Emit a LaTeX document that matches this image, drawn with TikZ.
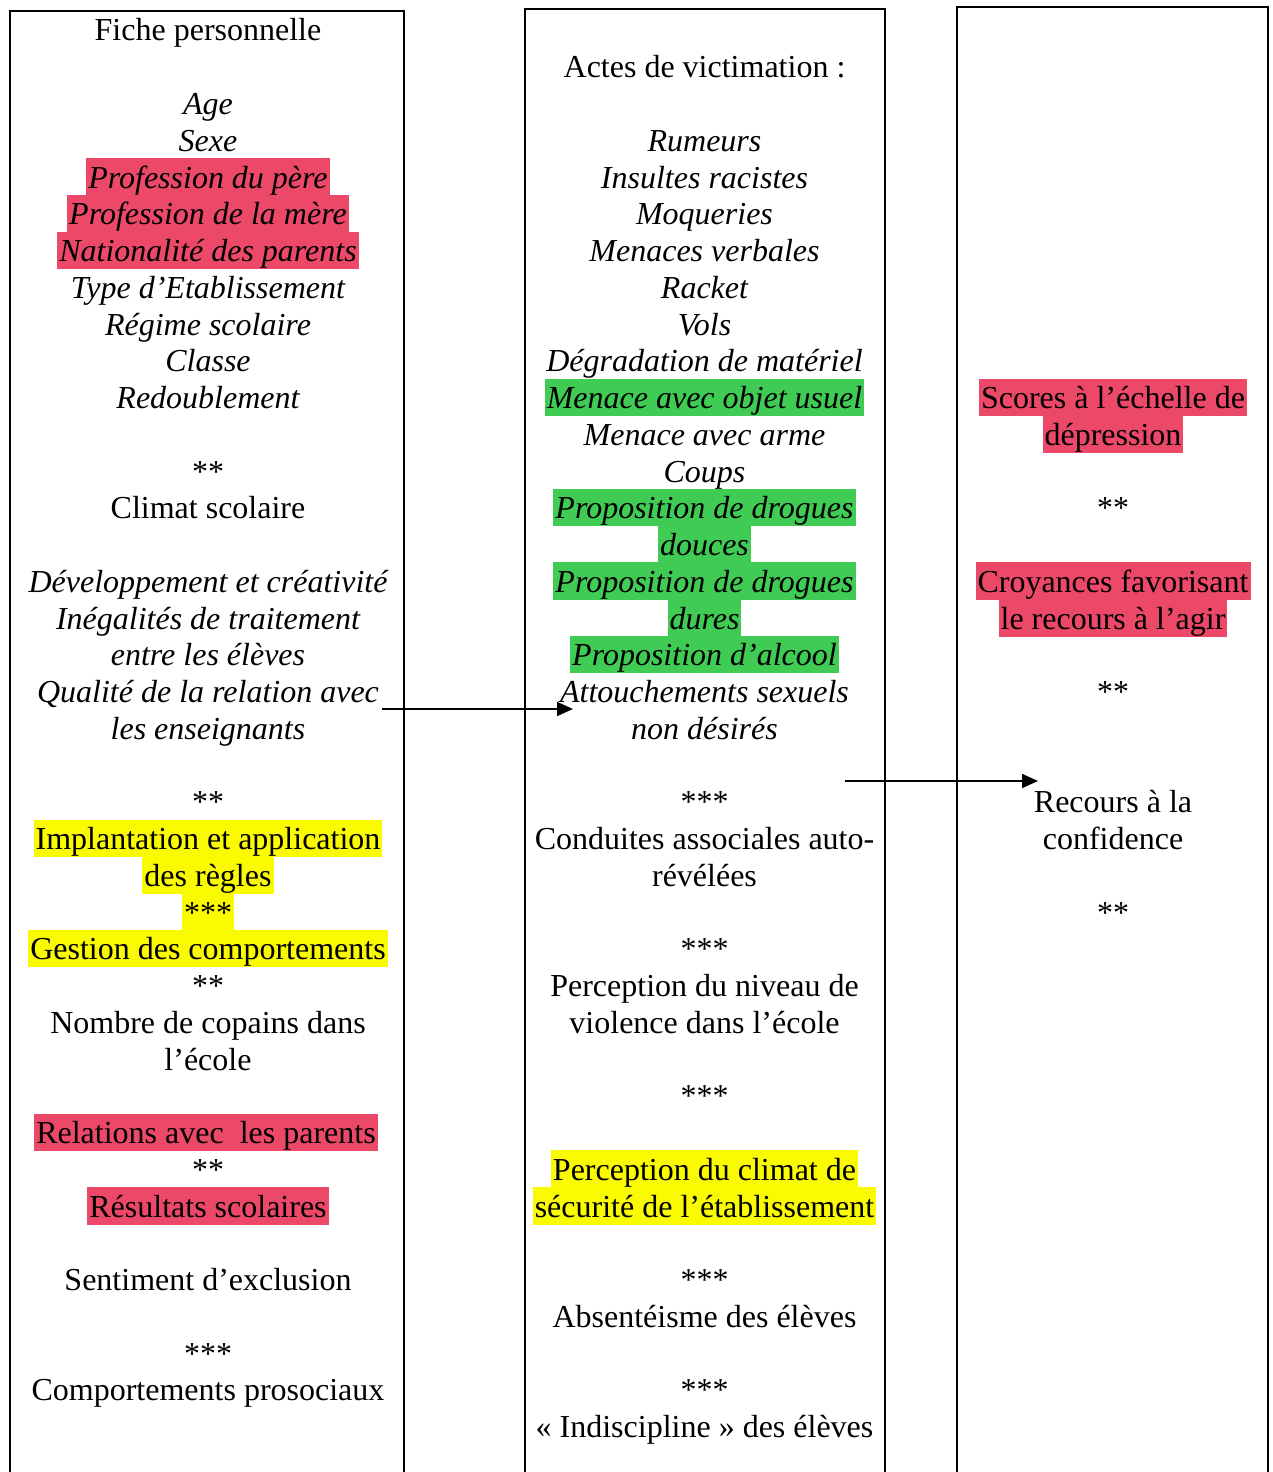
\documentclass[tikz,border=0pt]{standalone}
\usepackage{fontspec}
\setmainfont{Liberation Serif}
\usetikzlibrary{arrows.meta}

\definecolor{hred}{RGB}{236,72,104}
\definecolor{hgreen}{RGB}{64,204,84}
\definecolor{hyellow}{RGB}{250,250,0}

\tikzset{
  rm/.style={anchor=base, inner sep=0pt, font=\fontsize{32}{36.8}\selectfont},
  ital/.style={rm, font=\fontsize{32}{36.8}\selectfont\itshape},
  hl/.style={fill=#1, inner xsep=2pt, text height=30pt, text depth=7.5pt},
  colbox/.style={line width=1.6pt},
  link/.style={line width=1.6pt, -{Triangle[length=16pt,width=14pt]}},
}

\begin{document}
\begin{tikzpicture}[x=1pt, y=-1pt]

    \useasboundingbox (0,0) rectangle (1272,1472);

    \draw[colbox] (10,1472) -- (10,11) -- (404,11) -- (404,1472);
    \draw[colbox] (525,1472) -- (525,9) -- (885,9) -- (885,1472);
    \draw[colbox] (957,1472) -- (957,7) -- (1268,7) -- (1268,1472);

    \node[rm] (L0) at (208,41) {Fiche personnelle};
    \node[ital] (L2) at (208,114.5) {Age};
    \node[ital] (L3) at (208,151.3) {Sexe};
    \node[ital, hl=hred] (L4) at (208,188) {Profession du père};
    \node[ital, hl=hred] (L5) at (208,224.8) {Profession de la mère};
    \node[ital, hl=hred] (L6) at (208,261.5) {Nationalité des parents};
    \node[ital] (L7) at (208,298.3) {Type d’Etablissement};
    \node[ital] (L8) at (208,335) {Régime scolaire};
    \node[ital] (L9) at (208,371.8) {Classe};
    \node[ital] (L10) at (208,408.5) {Redoublement};
    \node[rm] (L12) at (208,482) {**};
    \node[rm] (L13) at (208,518.8) {Climat scolaire};
    \node[ital] (L15) at (208,592.3) {Développement et créativité};
    \node[ital] (L16) at (208,629) {Inégalités de traitement};
    \node[ital] (L17) at (208,665.8) {entre les élèves};
    \node[ital] (L18) at (208,702.5) {Qualité de la relation avec};
    \node[ital] (L19) at (208,739.3) {les enseignants};
    \node[rm] (L21) at (208,812.8) {**};
    \node[rm, hl=hyellow] (L22) at (208,849.5) {Implantation et application};
    \node[rm, hl=hyellow] (L23) at (208,886.3) {des règles};
    \node[rm, hl=hyellow] (L24) at (208,923) {***};
    \node[rm, hl=hyellow] (L25) at (208,959.8) {Gestion des comportements};
    \node[rm] (L26) at (208,996.5) {**};
    \node[rm] (L27) at (208,1033.3) {Nombre de copains dans};
    \node[rm] (L28) at (208,1070) {l’école};
    \node[rm, hl=hred] (L30) at (206,1143.5) {Relations avec\ \ les parents};
    \node[rm] (L31) at (208,1180.3) {**};
    \node[rm, hl=hred] (L32) at (208,1217) {Résultats scolaires};
    \node[rm] (L34) at (208,1290.5) {Sentiment d’exclusion};
    \node[rm] (L36) at (208,1364) {***};
    \node[rm] (L37) at (208,1400.8) {Comportements prosociaux};

    \node[rm] (M1) at (704.5,77.8) {Actes de victimation :};
    \node[ital] (M3) at (704.5,151.3) {Rumeurs};
    \node[ital] (M4) at (704.5,188) {Insultes racistes};
    \node[ital] (M5) at (704.5,224.8) {Moqueries};
    \node[ital] (M6) at (704.5,261.5) {Menaces verbales};
    \node[ital] (M7) at (704.5,298.3) {Racket};
    \node[ital] (M8) at (704.5,335) {Vols};
    \node[ital] (M9) at (704.5,371.8) {Dégradation de matériel};
    \node[ital, hl=hgreen] (M10) at (704.5,408.5) {Menace avec objet usuel};
    \node[ital] (M11) at (704.5,445.3) {Menace avec arme};
    \node[ital] (M12) at (704.5,482) {Coups};
    \node[ital, hl=hgreen] (M13) at (704.5,518.8) {Proposition de drogues};
    \node[ital, hl=hgreen] (M14) at (704.5,555.5) {douces};
    \node[ital, hl=hgreen] (M15) at (704.5,592.3) {Proposition de drogues};
    \node[ital, hl=hgreen] (M16) at (704.5,629) {dures};
    \node[ital, hl=hgreen] (M17) at (704.5,665.8) {Proposition d’alcool};
    \node[ital] (M18) at (704.5,702.5) {Attouchements sexuels};
    \node[ital] (M19) at (704.5,739.3) {non désirés};
    \node[rm] (M21) at (704.5,812.8) {***};
    \node[rm] (M22) at (704.5,849.5) {Conduites associales auto-};
    \node[rm] (M23) at (704.5,886.3) {révélées};
    \node[rm] (M25) at (704.5,959.8) {***};
    \node[rm] (M26) at (704.5,996.5) {Perception du niveau de};
    \node[rm] (M27) at (704.5,1033.3) {violence dans l’école};
    \node[rm] (M29) at (704.5,1106.8) {***};
    \node[rm, hl=hyellow] (M31) at (704.5,1180.3) {Perception du climat de};
    \node[rm, hl=hyellow] (M32) at (704.5,1217) {sécurité de l’établissement};
    \node[rm] (M34) at (704.5,1290.5) {***};
    \node[rm] (M35) at (704.5,1327.3) {Absentéisme des élèves};
    \node[rm] (M37) at (704.5,1400.8) {***};
    \node[rm] (M38) at (704.5,1437.5) {« Indiscipline » des élèves};

    \node[rm, hl=hred] (R10) at (1113,408.5) {Scores à l’échelle de};
    \node[rm, hl=hred] (R11) at (1113,445.3) {dépression};
    \node[rm] (R13) at (1113,518.8) {**};
    \node[rm, hl=hred] (R15) at (1113,592.3) {Croyances favorisant};
    \node[rm, hl=hred] (R16) at (1113,629) {le recours à l’agir};
    \node[rm] (R18) at (1113,702.5) {**};
    \node[rm] (R21) at (1113,812.8) {Recours à la};
    \node[rm] (R22) at (1113,849.5) {confidence};
    \node[rm] (R24) at (1113,923) {**};

    \coordinate (QAS) at (382,709);
    \coordinate (QAT) at (573,709);
    \coordinate (CRS) at (845,781);
    \coordinate (CRT) at (1038,781);

    \draw[link] (QAS) -- (QAT);
    \draw[link] (CRS) -- (CRT);

\end{tikzpicture}
\end{document}
